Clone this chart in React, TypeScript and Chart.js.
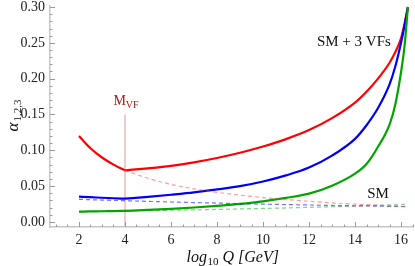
import React, { useEffect, useRef } from "react";
import { Chart, registerables } from "chart.js";
Chart.register(...registerables);

// log10 Q grids
const lowLog = [2, 2.5, 3, 3.5, 4];
const vfLog = [4, 5, 6, 7, 8, 9, 10, 11, 12, 13, 14, 14.5, 15, 15.5, 15.75, 16, 16.15, 16.3];
const smLog = [2, 3, 4, 5, 6, 7, 8, 9, 10, 11, 12, 13, 14, 15, 16, 16.3];
const smLog3 = [4, 5, 6, 7, 8, 9, 10, 11, 12, 13, 14, 15, 16, 16.3];

// below M_VF (common)
const alpha3Low = [0.12, 0.1029, 0.09, 0.08, 0.072];
const alpha2Low = [0.0353, 0.0346, 0.0338, 0.0331, 0.0325];
const alpha1Low = [0.0145, 0.0147, 0.015, 0.0152, 0.0155];

// SM + 3 VFs
const alpha3VF = [0.072, 0.0749, 0.0784, 0.0833, 0.0893, 0.0966, 0.1053, 0.1156, 0.1282, 0.1449, 0.1667, 0.1818, 0.2, 0.2222, 0.237, 0.2564, 0.2762, 0.3];
const alpha2VF = [0.0325, 0.035, 0.038, 0.0413, 0.0455, 0.05, 0.0565, 0.065, 0.076, 0.0926, 0.116, 0.135, 0.159, 0.192, 0.217, 0.25, 0.274, 0.3];
const alpha1VF = [0.0155, 0.0168, 0.0183, 0.0202, 0.0224, 0.0252, 0.0288, 0.0336, 0.0395, 0.0506, 0.0675, 0.081, 0.105, 0.136, 0.164, 0.209, 0.245, 0.3];

// SM only (dashed)
const alpha3SM = [0.072, 0.061, 0.0525, 0.0463, 0.0414, 0.0374, 0.0341, 0.0314, 0.0288, 0.0267, 0.0249, 0.0234, 0.022, 0.0216];
const alpha2SM = [0.0316, 0.0306, 0.0297, 0.0288, 0.0279, 0.0271, 0.0264, 0.0256, 0.0249, 0.0243, 0.0237, 0.0231, 0.0226, 0.0221, 0.0216, 0.0214];
const alpha1SM = [0.0145, 0.0149, 0.0154, 0.0159, 0.0164, 0.0169, 0.0175, 0.0182, 0.0189, 0.0196, 0.0204, 0.0213, 0.0222, 0.0233, 0.0244, 0.0248];

// axes
const xLabelTicks = [2, 4, 6, 8, 10, 12, 14, 16];
const yLabelTicks = [0, 0.05, 0.1, 0.15, 0.2, 0.25, 0.3];
const xMinorStep = 0.5;
const yMinorStep = 0.01;
const xMin = 0.74, xMax = 16.52;
const yMin = -0.007, yMax = 0.3014;

// annotations
const mvfLog = 4;
const mvfLineTop = 0.15;
const mvfLabelY = 0.163;
const vfLabel = { x: 13.95, y: 0.251, text: "SM + 3 VFs" };
const smLabel = { x: 15.0, y: 0.039, text: "SM" };

const RED = "rgb(255,0,0)";
const BLUE = "rgb(0,0,245)";
const GREEN = "rgb(0,165,0)";
const SERIF = '"Liberation Serif", "Times New Roman", serif';

const pts = (xs: number[], ys: number[]) => xs.map((x, i) => ({ x, y: ys[i] }));
const near = (a: number, b: number) => Math.abs(a - b) < 1e-6;

function ticksList(min: number, max: number, step: number) {
  const out: number[] = [];
  const n = Math.round((max - min) / step);
  for (let i = 0; i <= n; i++) out.push(Math.round((min + i * step) * 1000) / 1000);
  return out;
}
const xTickValues = ticksList(1, 16.5, xMinorStep);
const yTickValues = ticksList(0, 0.3, yMinorStep);

const decor = {
  id: "decor",
  beforeDatasetsDraw(chart: any) {
    const { ctx, chartArea, scales } = chart;
    const x = scales.x, y = scales.y;
    ctx.save();
    const xm = x.getPixelForValue(mvfLog);
    ctx.strokeStyle = "rgb(240,205,205)";
    ctx.lineWidth = 2;
    ctx.beginPath();
    ctx.moveTo(xm, y.getPixelForValue(mvfLineTop));
    ctx.lineTo(xm, chartArea.bottom);
    ctx.stroke();

    ctx.strokeStyle = "#9a9a9a";
    ctx.lineWidth = 1;
    x.ticks.forEach((t: any) => {
      const px = Math.round(x.getPixelForValue(t.value)) + 0.5;
      const len = xLabelTicks.some((v) => near(v, t.value)) ? 5 : 2.5;
      ctx.beginPath();
      ctx.moveTo(px, chartArea.bottom);
      ctx.lineTo(px, chartArea.bottom - len);
      ctx.stroke();
    });
    y.ticks.forEach((t: any) => {
      const py = Math.round(y.getPixelForValue(t.value)) + 0.5;
      const len = yLabelTicks.some((v) => near(v, t.value)) ? 5 : 2.5;
      ctx.beginPath();
      ctx.moveTo(chartArea.left, py);
      ctx.lineTo(chartArea.left + len, py);
      ctx.stroke();
    });
    ctx.restore();
  },
  afterDraw(chart: any) {
    const { ctx, chartArea, scales } = chart;
    const x = scales.x, y = scales.y;
    ctx.save();
    // M_VF label
    const xm = x.getPixelForValue(mvfLog);
    const ym = y.getPixelForValue(mvfLabelY);
    ctx.fillStyle = "rgb(175,25,25)";
    ctx.textBaseline = "alphabetic";
    ctx.textAlign = "left";
    ctx.font = `14px ${SERIF}`;
    const mW = ctx.measureText("M").width;
    ctx.font = `10px ${SERIF}`;
    const vW = ctx.measureText("VF").width;
    const sx = xm - (mW + vW) / 2 + 1;
    ctx.font = `14px ${SERIF}`;
    ctx.fillText("M", sx, ym);
    ctx.font = `10px ${SERIF}`;
    ctx.fillText("VF", sx + mW, ym + 3);

    // curve labels
    ctx.fillStyle = "#111";
    ctx.font = `15px ${SERIF}`;
    ctx.textAlign = "center";
    ctx.textBaseline = "middle";
    ctx.fillText(vfLabel.text, x.getPixelForValue(vfLabel.x), y.getPixelForValue(vfLabel.y));
    ctx.fillText(smLabel.text, x.getPixelForValue(smLabel.x), y.getPixelForValue(smLabel.y));

    // y title
    ctx.save();
    ctx.translate(13, 116);
    ctx.rotate(-Math.PI / 2);
    ctx.textAlign = "left";
    ctx.textBaseline = "alphabetic";
    ctx.font = `italic 17px ${SERIF}`;
    const aW = ctx.measureText("α").width;
    ctx.font = `11px ${SERIF}`;
    const sW = ctx.measureText("1,2,3").width;
    const start = -(aW + sW) / 2;
    ctx.font = `italic 17px ${SERIF}`;
    ctx.fillText("α", start, 5);
    ctx.font = `11px ${SERIF}`;
    ctx.fillText("1,2,3", start + aW + 1, 8);
    ctx.restore();

    // x title
    ctx.textAlign = "left";
    ctx.textBaseline = "alphabetic";
    ctx.font = `italic 16px ${SERIF}`;
    const lW = ctx.measureText("log").width;
    const rW = ctx.measureText(" Q [GeV]").width;
    ctx.font = `11px ${SERIF}`;
    const tW = ctx.measureText("10").width;
    const cx = (chartArea.left + chartArea.right) / 2 + 1;
    const bx = cx - (lW + tW + rW) / 2;
    const by = 262;
    ctx.font = `italic 16px ${SERIF}`;
    ctx.fillText("log", bx, by);
    ctx.font = `11px ${SERIF}`;
    ctx.fillText("10", bx + lW + 0.5, by + 3);
    ctx.font = `italic 16px ${SERIF}`;
    ctx.fillText(" Q [GeV]", bx + lW + tW + 0.5, by);
    ctx.restore();
  },
};

export default function App() {
  const ref = useRef<HTMLCanvasElement | null>(null);
  useEffect(() => {
    if (!ref.current) return;
    const solid = (data: any, color: string) => ({
      data,
      borderColor: color,
      borderWidth: 2.2,
      pointRadius: 0,
      fill: false,
      cubicInterpolationMode: "monotone",
    });
    const dashed = (data: any, color: string) => ({
      data,
      borderColor: color,
      borderWidth: 1.2,
      borderDash: [4, 3],
      pointRadius: 0,
      fill: false,
      cubicInterpolationMode: "monotone",
    });
    const zeroPad = (s: any) => {
      s.paddingLeft = 0;
      s.paddingRight = 0;
      s.paddingTop = 0;
      s.paddingBottom = 0;
    };
    const chart = new Chart(ref.current, {
      type: "line",
      data: {
        datasets: [
          dashed(pts(smLog3, alpha3SM), "rgba(255,60,60,0.5)"),
          dashed(pts(smLog, alpha2SM), "rgba(40,40,255,0.65)"),
          dashed(pts(smLog, alpha1SM), "rgba(0,170,0,0.5)"),
          solid(pts(lowLog, alpha1Low), GREEN),
          solid(pts(vfLog, alpha1VF), GREEN),
          solid(pts(lowLog, alpha2Low), BLUE),
          solid(pts(vfLog, alpha2VF), BLUE),
          solid(pts(lowLog, alpha3Low), RED),
          solid(pts(vfLog, alpha3VF), RED),
        ] as any,
      },
      options: {
        animation: false,
        responsive: false,
        devicePixelRatio: 1,
        layout: { padding: { left: 0, right: 2, top: 6, bottom: 0 } },
        plugins: { legend: { display: false }, tooltip: { enabled: false } },
        scales: {
          x: {
            type: "linear",
            min: xMin,
            max: xMax,
            grid: { display: false, drawTicks: false },
            border: { display: true, color: "#c6c6c6", width: 1.5 },
            afterBuildTicks: (s: any) => {
              s.ticks = xTickValues.map((v) => ({ value: v }));
            },
            afterFit: (s: any) => {
              s.height = 39;
              zeroPad(s);
            },
            ticks: {
              autoSkip: false,
              maxRotation: 0,
              padding: 5,
              color: "#222",
              font: { family: SERIF, size: 14 },
              callback: (v: any) => (xLabelTicks.some((t) => near(t, v)) ? String(v) : ""),
            },
          },
          y: {
            type: "linear",
            min: yMin,
            max: yMax,
            grid: { display: false, drawTicks: false },
            border: { display: true, color: "#c6c6c6", width: 1.5 },
            afterBuildTicks: (s: any) => {
              s.ticks = yTickValues.map((v) => ({ value: v }));
            },
            afterFit: (s: any) => {
              s.width = 50;
              zeroPad(s);
            },
            ticks: {
              autoSkip: false,
              padding: 5,
              color: "#222",
              font: { family: SERIF, size: 14 },
              callback: (v: any) => (yLabelTicks.some((t) => near(t, v)) ? Number(v).toFixed(2) : ""),
            },
          },
        },
      },
      plugins: [decor],
    });
    return () => chart.destroy();
  }, []);
  return (
    <div style={{ position: "absolute", left: 0, top: 0, width: 415, height: 266 }}>
      <canvas ref={ref} width={415} height={266} style={{ width: 415, height: 266 }} />
    </div>
  );
}
